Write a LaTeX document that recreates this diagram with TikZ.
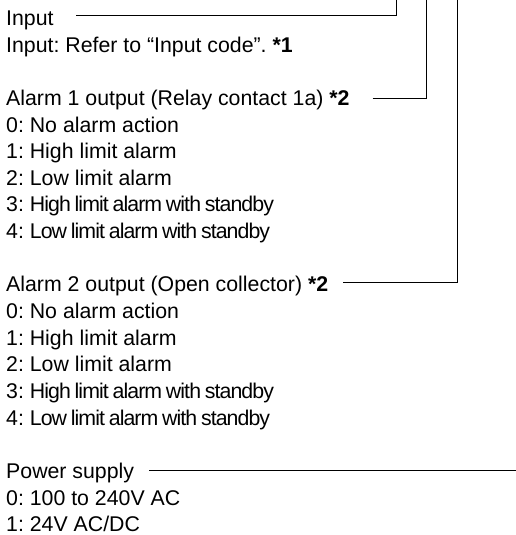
\documentclass[tikz,border=0pt]{standalone}
\usepackage{fontspec}
\setmainfont{Liberation Sans}
\newfontfamily\tightfont[LetterSpace=-4.3,WordSpace=0.75]{Liberation Sans}
\frenchspacing
\begin{document}
\begin{tikzpicture}[x=1pt,y=-1pt,
  lbl/.style={anchor=base west,inner sep=0pt,font=\fontsize{21.3}{25}\selectfont},
  conn/.style={line width=1.2pt,line join=miter,line cap=butt}]
\useasboundingbox (0,0) rectangle (516,535);
\def\bl#1{\fpeval{25.4+26.65*#1}}
\node[lbl] (in)   at (6,\bl{0}) {Input};
\node[lbl] (inr)  at (6,\bl{1}) {Input: Refer to “Input code”. \textbf{*1}};
\node[lbl] (a1)   at (6,\bl{3}) {Alarm 1 output (Relay contact 1a) \textbf{*2}};
\node[lbl] (a1o0) at (6,\bl{4}) {0: No alarm action};
\node[lbl] (a1o1) at (6,\bl{5}) {1: High limit alarm};
\node[lbl] (a1o2) at (6,\bl{6}) {2: Low limit alarm};
\node[lbl] (a1o3) at (6,\bl{7}) {3: {\tightfont High limit alarm with standby}};
\node[lbl] (a1o4) at (6,\bl{8}) {4: {\tightfont Low limit alarm with standby}};
\node[lbl] (a2)   at (6,\bl{10}) {Alarm 2 output (Open collector) \textbf{*2}};
\node[lbl] (a2o0) at (6,\bl{11}) {0: No alarm action};
\node[lbl] (a2o1) at (6,\bl{12}) {1: High limit alarm};
\node[lbl] (a2o2) at (6,\bl{13}) {2: Low limit alarm};
\node[lbl] (a2o3) at (6,\bl{14}) {3: {\tightfont High limit alarm with standby}};
\node[lbl] (a2o4) at (6,\bl{15}) {4: {\tightfont Low limit alarm with standby}};
\node[lbl] (ps)   at (6,\bl{17}) {Power supply};
\node[lbl] (ps0)  at (6,\bl{18}) {0: 100 to 240V AC};
\node[lbl] (ps1)  at (6,\bl{19}) {1: 24V AC/DC};
% connector end points
\coordinate (s1) at (76,15.7);   \coordinate (k1) at (396.5,15.7);  \coordinate (t1) at (396.5,0);
\coordinate (s2) at (372.7,98.7); \coordinate (k2) at (426.3,98.7); \coordinate (t2) at (426.3,0);
\coordinate (s3) at (343.3,282.7); \coordinate (k3) at (457.8,282.7); \coordinate (t3) at (457.8,0);
\coordinate (s4) at (149,470.7);  \coordinate (t4) at (516,470.7);
\draw[conn] (s1) -- (k1) -- (t1);
\draw[conn] (s2) -- (k2) -- (t2);
\draw[conn] (s3) -- (k3) -- (t3);
\draw[conn] (s4) -- (t4);
\end{tikzpicture}
\end{document}
